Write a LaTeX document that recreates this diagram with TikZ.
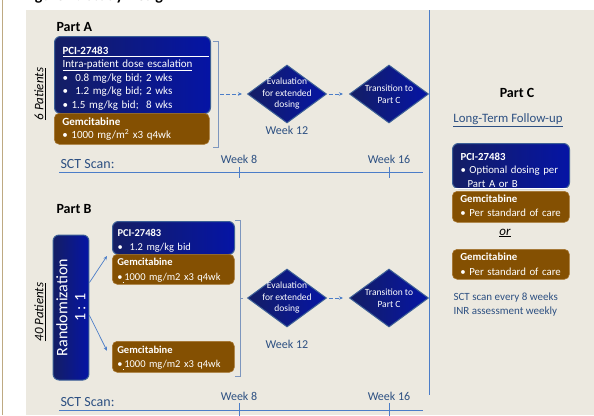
\documentclass[tikz,border=0pt]{standalone}
\usepackage{fontspec}
\setmainfont{Carlito}
\usetikzlibrary{arrows.meta, positioning, calc, shadings, shapes.geometric}
\definecolor{pageFill}{RGB}{236, 233, 224}
\definecolor{tanEdge}{RGB}{190, 170, 130}
\definecolor{navyDark}{RGB}{ 20,  30, 100}
\definecolor{navyBright}{RGB}{  5,  20, 165}
\definecolor{navyEdge}{RGB}{ 60,  95, 150}
\definecolor{gemFill}{RGB}{132,  80,   2}
\definecolor{gemEdge}{RGB}{165, 115,  45}
\definecolor{lineBlue}{RGB}{ 75, 125, 200}
\definecolor{textBlue}{RGB}{ 45,  80, 130}
\definecolor{brackEdge}{RGB}{125, 150, 190}
\newcommand{\boxfont}{\fontsize{11}{13.5}\selectfont}
% first line / last line struts: fix where the text sits inside a box
\newcommand{\topgap}[1]{\rule{0pt}{#1}}
\newcommand{\botgap}[1]{\rule[-#1]{0pt}{#1}}
\tikzset{
  pcibox/.style={
    draw=navyEdge, line width=1pt, left color=navyDark, right color=navyBright,
    rounded corners=6pt, text=white, align=left, anchor=north west,
    inner xsep=8pt, inner ysep=0pt, font=\boxfont,
  },
  gembox/.style={
    draw=gemEdge, line width=0.6pt, fill=gemFill, rounded corners=5pt,
    text=white, align=left, anchor=north west,
    inner xsep=8pt, inner ysep=0pt, font=\boxfont,
  },
  randbox/.style={
    draw=navyEdge, line width=1pt, left color=navyDark, right color=navyBright,
    rounded corners=6pt, text=white, align=center, rotate=90,
    font=\fontsize{16}{18}\selectfont,
  },
  decision/.style={
    diamond, aspect=1.36, draw=navyEdge, line width=1pt,
    left color=navyDark, right color=navyBright,
    inner sep=0pt, minimum width=79pt, minimum height=58pt,
  },
  decisiontext/.style={
    text=white, align=center, inner sep=0pt,
    font=\fontsize{9.5}{11.5}\selectfont,
  },
  parttitle/.style={font=\bfseries\fontsize{14}{16}\selectfont, anchor=west},
  weeklabel/.style={text=textBlue, font=\fontsize{12}{14}\selectfont},
  scanlabel/.style={text=textBlue, font=\fontsize{14}{16}\selectfont, anchor=west},
  patients/.style={rotate=90, font=\itshape\fontsize{13}{15}\selectfont},
  timeline/.style={draw=lineBlue, line width=0.8pt},
  bracket/.style={draw=brackEdge, line width=0.6pt},
  flow/.style={-{Stealth[length=4pt, width=3.5pt]}, draw=lineBlue, line width=0.7pt},
  dashflow/.style={flow, dash pattern=on 4pt off 2pt},
}

\begin{document}
\begin{tikzpicture}[x=1pt, y=-1pt]

\useasboundingbox (0,0) rectangle (594,415);

% =========================================================================
% page
% =========================================================================

\fill[pageFill] (26,10) rectangle (594,415);
\draw[tanEdge, line width=0.8pt] (2,0) -- (2,415);
\node[font=\bfseries\fontsize{16}{18}\selectfont, anchor=base west] (figtitle)
  at (20,0.5) {Figure 1: Study Design};
\draw[lineBlue, line width=0.8pt] (429,10) -- (429,395);

% =========================================================================
% Part A
% =========================================================================

\node[parttitle] (partA) at (53,27) {Part A};

\node[pcibox, minimum width=156pt, minimum height=77pt, text width=140pt] (pciA) at (54,36) {%
  \topgap{17.5pt}\textbf{PCI-27483}\\
  \underline{Intra-patient dose escalation}\\
  \textbullet\ \ 0.8 mg/kg bid; 2 wks\\
  \textbullet\ \ 1.2 mg/kg bid; 2 wks\\
  \textbullet\ 1.5 mg/kg bid;\ \ 8 wks\botgap{5.5pt}};
\draw[white, line width=0.6pt] ($(pciA.north west)+(9,20.5)$) -- ($(pciA.north east)+(-2,20.5)$);

\node[gembox, minimum width=155pt, minimum height=31pt, text width=139pt] (gemA) at (54,113) {%
  \topgap{12.5pt}\textbf{Gemcitabine}\\[-0.5pt]
  \textbullet\ 1000 mg/m\textsuperscript{2} x3 q4wk\botgap{5.5pt}};

\node[patients] (ptsA) at (40,94) {\underline{6 Patients}};

\draw[bracket] (213,41) -| (218,147) -- (213,147);
\coordinate (bracketA) at (218,94);

\node[decision, label={[decisiontext]center:Evaluation\\for extended\\dosing}] (evalA) at (287,94) {};
\node[decision, label={[decisiontext]center:Transition to\\Part C}] (transA) at (389,94) {};
\node[weeklabel] (wk12A) at (287,130) {Week 12};

\draw[dashflow, shorten <=2pt, shorten >=5pt] (bracketA) -- (evalA.west);
\draw[dashflow, shorten <=2pt, shorten >=6pt] (evalA.east) -- (transA.west);

% SCT scan timeline
\node[scanlabel] (scanA) at (57,164) {SCT Scan:};
\draw[timeline] (59,172) -- (423,172);
\draw[timeline] (239,167) -- (239,178);
\draw[timeline] (389,167) -- (389,178);
\node[weeklabel] (wk8A) at (239,159) {Week 8};
\node[weeklabel] (wk16A) at (389,159) {Week 16};

% =========================================================================
% Part B
% =========================================================================

\node[parttitle] (partB) at (53,209) {Part B};

\node[randbox, minimum width=145pt, minimum height=34pt] (rand) at (71,307.5)
  {Randomization\\1 : 1};
\node[patients] (ptsB) at (40,312) {\underline{40 Patients}};

\node[pcibox, minimum width=122pt, minimum height=33pt, text width=112pt,
      inner xsep=5pt, font=\fontsize{10.5}{14}\selectfont] (pciB) at (112,221) {%
  \topgap{14.5pt}\textbf{PCI-27483}\\
  \textbullet\ \ 1.2 mg/kg bid\botgap{4.5pt}};
\node[gembox, minimum width=122pt, minimum height=30pt, text width=112pt,
      inner xsep=5pt, font=\fontsize{10.5}{15}\selectfont] (gemB) at (112,254) {%
  \topgap{11.5pt}\textbf{Gemcitabine}\\
  \textbullet\underline{\,}1000 mg/m2 x3 q4wk\botgap{3.5pt}};
\node[gembox, minimum width=122pt, minimum height=31pt, text width=112pt,
      inner xsep=5pt, font=\fontsize{10.5}{14}\selectfont] (gemB2) at (112,341) {%
  \topgap{12.5pt}\textbf{Gemcitabine}\\
  \textbullet\underline{\,}1000 mg/m2 x3 q4wk\botgap{4.5pt}};

\draw[flow] ($(rand.south)+(0,-25)$) -- ($(gemB.north west)+(-5,2)$);
\draw[flow] ($(rand.south)+(0,8)$) -- ($(gemB2.west)+(-5,-6)$);

\draw[bracket] (235,220) -| (240,376) -- (235,376);
\coordinate (bracketB) at (240,298);
\draw[bracket] (bracketB) -- ++(3,0);

\node[decision, label={[decisiontext]center:Evaluation\\for extended\\dosing}] (evalB) at (287,298) {};
\node[decision, label={[decisiontext]center:Transition to\\Part C}] (transB) at (389,298) {};
\node[weeklabel] (wk12B) at (287,344) {Week 12};

\draw[dashflow, shorten <=2pt, shorten >=6pt] (evalB.east) -- (transB.west);

% SCT scan timeline
\node[scanlabel] (scanB) at (57,402) {SCT Scan:};
\draw[timeline] (59,410) -- (423,410);
\draw[timeline] (239,403) -- (239,420);
\draw[timeline] (389,403) -- (389,420);
\node[weeklabel] (wk8B) at (239,396) {Week 8};
\node[weeklabel] (wk16B) at (389,396) {Week 16};

% =========================================================================
% Part C
% =========================================================================

\node[font=\bfseries\fontsize{14}{16}\selectfont] (partC) at (517,93) {Part C};
\node[text=textBlue, font=\fontsize{12.8}{15}\selectfont] (follow) at (508,120)
  {\underline{Long-Term Follow-up}};

\node[pcibox, minimum width=117pt, minimum height=45pt, text width=101pt,
      font=\fontsize{10.8}{13.5}\selectfont] (pciC) at (452,143) {%
  \topgap{16.5pt}\textbf{PCI-27483}\\
  \textbullet\ Optional dosing per\\
  \hspace*{7pt}Part A or B\botgap{1.5pt}};
\draw[white, line width=0.6pt] ($(pciC.south west)+(3,-1)$) -- ($(pciC.south east)+(-3,-1)$);
\node[gembox, minimum width=117pt, minimum height=31pt, text width=101pt,
      font=\fontsize{10.8}{14}\selectfont] (gemC) at (452,191) {%
  \topgap{11.5pt}\textbf{Gemcitabine}\\
  \textbullet\ Per standard of care\botgap{5.5pt}};

\node[font=\itshape\fontsize{13}{15}\selectfont] (orC) at (505,233) {\underline{or}};

\node[gembox, minimum width=117pt, minimum height=30pt, text width=101pt,
      font=\fontsize{10.8}{15}\selectfont] (gemC2) at (452,249) {%
  \topgap{11.5pt}\textbf{Gemcitabine}\\
  \textbullet\ Per standard of care\botgap{3.5pt}};

\node[text=textBlue, font=\fontsize{11}{14}\selectfont, align=left, anchor=west] (schedC)
  at (450,305) {SCT scan every 8 weeks\\INR assessment weekly};

\end{tikzpicture}
\end{document}
